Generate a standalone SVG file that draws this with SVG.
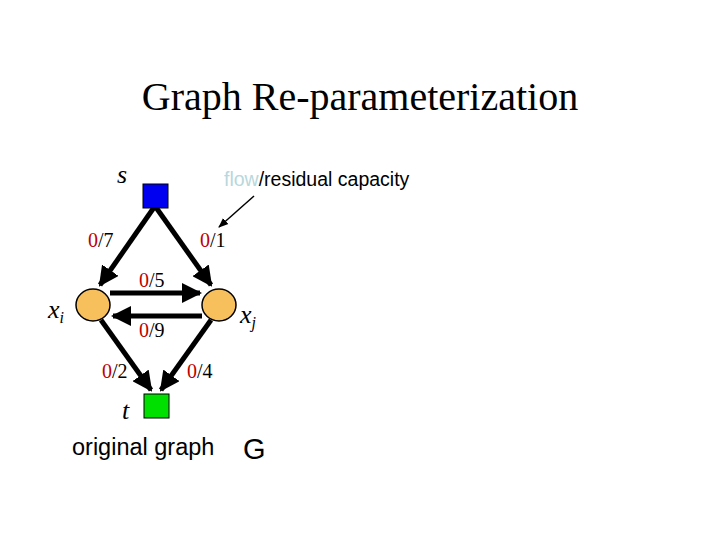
<svg xmlns="http://www.w3.org/2000/svg" width="720" height="540" viewBox="0 0 720 540">
<style>
.lbl{font-family:"Liberation Serif",serif;font-size:20px;fill:#000}
.r{fill:#C00000}
.it{font-family:"Liberation Serif",serif;font-style:italic;font-size:26px;fill:#000}
.edge{stroke:#000;stroke-width:5;fill:none;marker-end:url(#ah)}
.node{fill:#F8C05C;stroke:#000;stroke-width:1.5}
</style>
<defs>
<marker id="ah" markerWidth="4" markerHeight="4" refX="3.6" refY="2" orient="auto" markerUnits="strokeWidth">
<path d="M0,0 L4,2 L0,4 Z" fill="#000"/>
</marker>
<marker id="ah2" markerWidth="10" markerHeight="10" refX="9" refY="5" orient="auto" markerUnits="userSpaceOnUse">
<path d="M0,1 L10,5 L0,9 Z" fill="#000"/>
</marker>
</defs>
<rect width="720" height="540" fill="#fff"/>
<text x="360" y="110" text-anchor="middle" font-family="Liberation Serif,serif" font-size="40">Graph Re-parameterization</text>
<g id="connectors">
<line class="edge" x1="155" y1="206" x2="100" y2="285"/>
<line class="edge" x1="155" y1="206" x2="211" y2="285"/>
<line class="edge" x1="110" y1="293" x2="200" y2="293"/>
<line class="edge" x1="202" y1="316" x2="113" y2="316"/>
<line class="edge" x1="101" y1="320" x2="151" y2="390"/>
<line class="edge" x1="211" y1="320" x2="161" y2="390"/>
<line x1="254" y1="196" x2="219" y2="227" stroke="#000" stroke-width="1.5" marker-end="url(#ah2)"/>
</g>
<g id="s"><rect x="143" y="184" width="25" height="24" fill="#0000F0" stroke="#000" stroke-width="1"/><text class="it" x="117" y="183">s</text></g>
<g id="t"><rect x="144" y="394" width="25" height="24" fill="#00E000" stroke="#000" stroke-width="1"/><text class="it" x="122" y="419">t</text></g>
<g id="xi"><ellipse class="node" cx="93" cy="305" rx="17" ry="16"/><text class="it" x="48" y="318">x<tspan font-size="16" dy="5">i</tspan></text></g>
<g id="xj"><ellipse class="node" cx="219" cy="305" rx="17" ry="16"/><text class="it" x="240" y="323">x<tspan font-size="16" dy="5">j</tspan></text></g>
<g id="labels">
<text class="lbl" x="88" y="247"><tspan class="r">0</tspan>/7</text>
<text class="lbl" x="200" y="247"><tspan class="r">0</tspan>/1</text>
<text class="lbl" x="139" y="287"><tspan class="r">0</tspan>/5</text>
<text class="lbl" x="139" y="337"><tspan class="r">0</tspan>/9</text>
<text class="lbl" x="102" y="378"><tspan class="r">0</tspan>/2</text>
<text class="lbl" x="187" y="378"><tspan class="r">0</tspan>/4</text>
</g>
<text x="224" y="186" font-family="Liberation Sans,sans-serif" font-size="19.5"><tspan fill="#B8D8DC">flow</tspan>/residual capacity</text>
<text x="72" y="455" font-family="Liberation Sans,sans-serif" font-size="23.5">original graph</text>
<text x="243" y="459" font-family="Liberation Sans,sans-serif" font-size="29">G</text>
</svg>
